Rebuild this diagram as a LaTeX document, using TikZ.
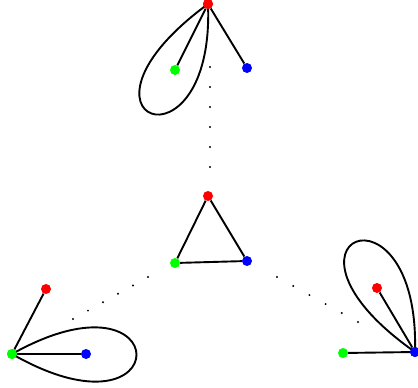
\documentclass[tikz,border=0pt]{standalone}
\usepackage{tikz}
\usetikzlibrary{calc}

\begin{document}
\begin{tikzpicture}[x=1pt,y=-1pt,
  vtx/.style={circle,inner sep=0pt,minimum size=10pt},
  edge/.style={line width=1.9pt}]
  \useasboundingbox (0,0) rectangle (418,388);
  % central triangle
  \node[vtx,fill=red]   (cr) at (208,196) {};
  \node[vtx,fill=green] (cg) at (175,263) {};
  \node[vtx,fill=blue]  (cb) at (247,261) {};
  % top piece: loop at red
  \node[vtx,fill=red]   (tr) at (208,4) {};
  \node[vtx,fill=green] (tg) at (175,70) {};
  \node[vtx,fill=blue]  (tb) at (247,68) {};
  % left piece: loop at green
  \node[vtx,fill=red]   (lr) at (46,289) {};
  \node[vtx,fill=green] (lg) at (12,354) {};
  \node[vtx,fill=blue]  (lb) at (86,354) {};
  % right piece: loop at blue
  \node[vtx,fill=red]   (rr) at (377,288) {};
  \node[vtx,fill=green] (rg) at (343,353) {};
  \node[vtx,fill=blue]  (rb) at (415,352) {};
  \draw[edge] (cr) -- (cg) -- (cb) -- (cr);
  \draw[edge] (tg) -- (tr) -- (tb);
  \draw[edge] (lr) -- (lg) -- (lb);
  \draw[edge] (rr) -- (rb) -- (rg);
  % loops, vertices redrawn on top
  \draw[edge] (tr.center) .. controls (50,120) and (215,180) .. (tr.center);
  \draw[edge] (lg.center) .. controls (178,261) and (178,449) .. (lg.center);
  \draw[edge] (rb.center) .. controls (253,238) and (420,172) .. (rb.center);
  \node[vtx,fill=red]   at (tr) {};
  \node[vtx,fill=green] at (lg) {};
  \node[vtx,fill=blue]  at (rb) {};
  % dotted links
  \coordinate (tA) at (210,67);  \coordinate (tB) at (210,167);
  \coordinate (lA) at (73,319);  \coordinate (lB) at (148,277);
  \coordinate (rA) at (277,277); \coordinate (rB) at (358,322);
  \foreach \a/\b in {tA/tB,lA/lB,rA/rB}
    \foreach \k in {0,...,5}
      \fill ($(\a)!\k/5!(\b)$) circle (1.1pt);
\end{tikzpicture}
\end{document}
